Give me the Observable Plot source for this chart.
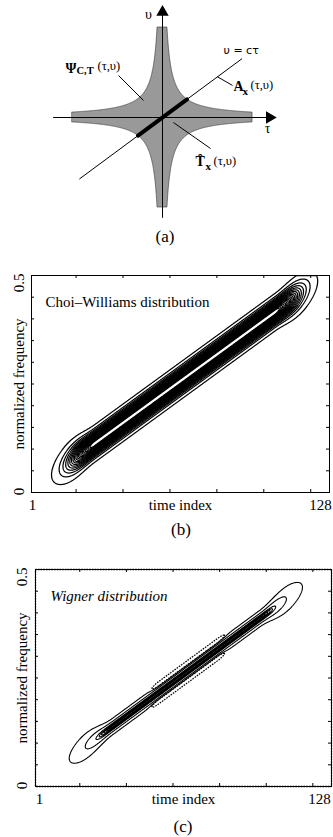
<!DOCTYPE html>
<html><head><meta charset="utf-8">
<script src="https://cdn.jsdelivr.net/npm/d3@7"></script>
<script src="https://cdn.jsdelivr.net/npm/@observablehq/plot@0.6"></script>
<style>
body{margin:0;background:#fff;}
#root{position:relative;width:333px;height:837px;overflow:hidden;font-family:"Liberation Serif",serif;background:#fff;}
#root svg{position:absolute;left:0;background:none;}
.cap{position:absolute;left:0;width:333px;font-size:17px;line-height:17px;font-family:"Liberation Serif",serif;}
</style></head><body><div id="root"></div>
<script>
// ---------- axis values (panels b and c) ----------
const timeDomain = [1, 128];
const freqDomain = [0, 0.5];
const timeTicks = [20, 40, 60, 80, 100, 120];
const freqTicks = [0.05, 0.1, 0.15, 0.2, 0.25, 0.3, 0.35, 0.4, 0.45];
const timeTickLabels = ["1", "128"];
const freqTickLabels = ["0", "0.5"];
const axisTitles = ["time index", "normalized frequency"];
const panelTitles = ["Choi–Williams distribution", "Wigner distribution"];
const captions = ["(a)", "(b)", "(c)"];

// ---------- Choi–Williams model ----------
const cwRidge = [0.007, 0.507];      // instantaneous frequency at t = 1 and t = 128
const cwSupport = [28, 104.5];       // full-strength time span
const cwTail = [6.6, 6.6];           // decay at both ends (time index)
const cwSpread = [0.0155, 0.45];     // frequency spread, widening at the ends
const cwLevels = [0.02, 0.07, 0.12, 0.17, 0.22, 0.27, 0.32, 0.37, 0.42, 0.47,
                  0.52, 0.57, 0.62, 0.67, 0.72, 0.77, 0.82, 0.87, 0.91, 0.95];

// ---------- Wigner model ----------
const wvRidge = [0.008, 0.508];
const wvSupport = [34, 97];
const wvTail = [7, 7];
const wvSpread = [0.0072, 1.3];
const wvLevels = [0.03, 0.25, 0.6, 0.72, 0.8, 0.87, 0.93, 0.97];
const wvLobeSpan = [54, 79];           // time span of the negative side lobes
const wvLobe = [0.0195, 0.0035, 0.2];  // offset, width, depth
const wvNegLevels = [-0.04];

// ---------- panel (a) schematic values ----------
const armLength = 1.0;     // extent of the Psi region along each axis
const hyperK = 0.055;      // |tau * nu| bound of the Psi region
const lineSlope = 0.74;    // nu = c tau
const tauAxis = [-1.21, 1.19];
const nuAxis = [-1.12, 1.17];
const lineTau = [-0.92, 0.88];

function tfModel(ridge, support, tail, spread) {
  return (t, f) => {
    const r = ridge[0] + (ridge[1] - ridge[0]) * (t - 1) / 127;
    let e = 1;
    if (t < support[0]) e = Math.exp(-((support[0] - t) ** 2) / (2 * tail[0] ** 2));
    else if (t > support[1]) e = Math.exp(-((t - support[1]) ** 2) / (2 * tail[1] ** 2));
    const s = spread[0] * (1 + spread[1] * (1 - e));
    return e * Math.exp(-((f - r) ** 2) / (2 * s * s));
  };
}
const cwValue = tfModel(cwRidge, cwSupport, cwTail, cwSpread);
const wvPos = tfModel(wvRidge, wvSupport, wvTail, wvSpread);
function wvValue(t, f) {
  const r = wvRidge[0] + (wvRidge[1] - wvRidge[0]) * (t - 1) / 127;
  let m = 1;
  if (t < wvLobeSpan[0]) m = Math.exp(-((wvLobeSpan[0] - t) ** 2) / (2 * 4));
  else if (t > wvLobeSpan[1]) m = Math.exp(-((t - wvLobeSpan[1]) ** 2) / (2 * 4));
  const [dlt, sw, depth] = wvLobe;
  const neg = depth * m * (Math.exp(-((f - r - dlt) ** 2) / (2 * sw * sw)) +
                           Math.exp(-((f - r + dlt) ** 2) / (2 * sw * sw)));
  return wvPos(t, f) - neg;
}

const root = document.getElementById("root");
const serif = "Liberation Serif, Times New Roman, serif";

// ---------- panel (a) ----------
function starHalf(tau) {
  const a = Math.abs(tau);
  return a < 1e-9 ? armLength : Math.min(armLength, hyperK / a);
}
const starTau = Array.from(new Set([...d3.range(-armLength, armLength + 1e-9, 0.002),
  hyperK / armLength, -hyperK / armLength])).sort((a, b) => a - b);
const segEnd = Math.sqrt(hyperK / lineSlope);

const panelA = Plot.plot({
  width: 333, height: 232,
  margin: 0,
  x: {domain: [-1.5, 1.5], range: [27, 297], axis: null},
  y: {domain: [-1.5, 1.5], range: [252, -18], axis: null},
  style: {fontFamily: serif, background: "transparent"},
  marks: [
    Plot.areaY(starTau, {x: d => d, y1: d => -starHalf(d), y2: d => starHalf(d),
      fill: "#999999", stroke: "#333", strokeWidth: 0.6}),
    Plot.ruleY([0], {x1: tauAxis[0], x2: tauAxis[1], stroke: "black", strokeWidth: 1}),
    Plot.ruleX([0], {y1: nuAxis[0], y2: nuAxis[1], stroke: "black", strokeWidth: 1}),
    Plot.dot([0], {x: tauAxis[1], y: 0, symbol: "triangle", rotate: 90, r: 4.6, fill: "black"}),
    Plot.dot([0], {x: 0, y: nuAxis[1], symbol: "triangle", r: 4.6, fill: "black"}),
    Plot.line(lineTau, {x: d => d, y: d => lineSlope * d, stroke: "black", strokeWidth: 1}),
    Plot.line([-segEnd, segEnd], {x: d => d, y: d => lineSlope * d, stroke: "black", strokeWidth: 4}),
    Plot.link([0], {x1: -0.489, y1: 0.467, x2: -0.211, y2: 0.189, stroke: "black"}),
    Plot.link([0], {x1: 0.611, y1: 0.452, x2: 0.778, y2: 0.356, stroke: "black"}),
    Plot.link([0], {x1: 0.122, y1: -0.056, x2: 0.533, y2: -0.344, stroke: "black"}),
    Plot.text(["υ"], {x: -0.156, y: 1.144, fontSize: 14, text: d => d}),
    Plot.text(["τ"], {x: 1.167, y: -0.122, fontSize: 14, text: d => d}),
    Plot.text(["υ = cτ"], {x: 0.678, y: 0.744, fontSize: 11, textAnchor: "start", text: d => d, fontFamily: "DejaVu Sans"}),
    Plot.text(["Ψ"], {x: -1.078, y: 0.544, fontSize: 14, fontWeight: "bold", textAnchor: "start", text: d => d}),
    Plot.text(["C,T"], {x: -0.956, y: 0.522, fontSize: 10.5, fontWeight: "bold", textAnchor: "start", text: d => d}),
    Plot.text(["(τ,υ)"], {x: -0.722, y: 0.567, fontSize: 12.5, textAnchor: "start", text: d => d}),
    Plot.text(["A"], {x: 0.789, y: 0.344, fontSize: 14, fontWeight: "bold", textAnchor: "start", text: d => d}),
    Plot.text(["x"], {x: 0.889, y: 0.289, fontSize: 11, fontWeight: "bold", textAnchor: "start", text: d => d}),
    Plot.text(["(τ,υ)"], {x: 0.978, y: 0.356, fontSize: 12.5, textAnchor: "start", text: d => d}),
    Plot.text(["T\u0311"], {x: 0.367, y: -0.489, fontSize: 14, fontWeight: "bold", textAnchor: "start", text: d => d}),
    Plot.text(["x"], {x: 0.478, y: -0.544, fontSize: 11, fontWeight: "bold", textAnchor: "start", text: d => d}),
    Plot.text(["(τ,υ)"], {x: 0.567, y: -0.478, fontSize: 12.5, textAnchor: "start", text: d => d})
  ]
});
panelA.style.top = "0px";
root.appendChild(panelA);

// ---------- panels (b) and (c) ----------
function tfPanel({top, left, frameW, value, levels, negLevels, title, italic, titleDx, titleDy,
                  labelDx128, yLabelDx, tickLabelDx, lineW}) {
  const frameH = 217;
  const marks = [
    Plot.contour({x1: timeDomain[0], x2: timeDomain[1], y1: freqDomain[0], y2: freqDomain[1],
      value, thresholds: levels, pixelSize: 0.5, fill: "none", stroke: "black", strokeWidth: lineW}),
  ];
  if (negLevels) marks.push(Plot.contour({x1: timeDomain[0], x2: timeDomain[1], y1: freqDomain[0], y2: freqDomain[1],
      value, thresholds: negLevels, pixelSize: 0.5, fill: "none", stroke: "black", strokeWidth: 1.3,
      strokeDasharray: "1.6,1.1"}));
  marks.push(
    Plot.frame({stroke: "black", strokeWidth: 1}),
    Plot.tickX(timeTicks, {x: d => d, insetTop: frameH - 3, stroke: "black"}),
    Plot.tickX(timeTicks, {x: d => d, insetBottom: frameH - 3, stroke: "black"}),
    Plot.tickY(freqTicks, {y: d => d, insetRight: frameW - 3, stroke: "black"}),
    Plot.tickY(freqTicks, {y: d => d, insetLeft: frameW - 3, stroke: "black"}),
    Plot.text([timeTickLabels[0]], {x: timeDomain[0], y: freqDomain[0], dy: 13, dx: tickLabelDx, fontSize: 15, text: d => d}),
    Plot.text([timeTickLabels[1]], {x: timeDomain[1], y: freqDomain[0], dy: 13, dx: labelDx128, fontSize: 15, text: d => d}),
    Plot.text([axisTitles[0]], {x: (timeDomain[0] + timeDomain[1]) / 2, y: freqDomain[0], dy: 13, fontSize: 15, text: d => d}),
    Plot.text([freqTickLabels[0]], {x: timeDomain[0], y: freqDomain[0], rotate: -90, dx: yLabelDx, dy: -1, fontSize: 15, text: d => d}),
    Plot.text([freqTickLabels[1]], {x: timeDomain[0], y: freqDomain[1], rotate: -90, dx: yLabelDx, dy: -2, textAnchor: "end", fontSize: 15, text: d => d}),
    Plot.text([axisTitles[1]], {x: timeDomain[0], y: (freqDomain[0] + freqDomain[1]) / 2, rotate: -90, dx: yLabelDx, fontSize: 15, text: d => d}),
    Plot.text([title], {frameAnchor: "top-left", dx: titleDx, dy: titleDy, textAnchor: "start", fontSize: 15,
      fontStyle: italic ? "italic" : "normal", text: d => d})
  );
  const p = Plot.plot({
    width: 333, height: 20 + frameH + 28,
    marginTop: 20, marginBottom: 28, marginLeft: left, marginRight: 333 - left - frameW,
    x: {domain: timeDomain, axis: null},
    y: {domain: freqDomain, axis: null},
    style: {fontFamily: serif, background: "transparent", overflow: "visible"},
    marks
  });
  p.style.top = top + "px";
  root.appendChild(p);
}

tfPanel({top: 255, left: 31, frameW: 298, value: cwValue, levels: cwLevels, lineW: 1.25,
  title: panelTitles[0], italic: false, titleDx: 14, titleDy: 21, labelDx128: -9, yLabelDx: -12, tickLabelDx: 1});
tfPanel({top: 549, left: 35, frameW: 296, value: wvValue, levels: wvLevels, negLevels: wvNegLevels, lineW: 1.1,
  title: panelTitles[1], italic: true, titleDx: 15, titleDy: 21, labelDx128: -12, yLabelDx: -13, tickLabelDx: 4});

// ---------- captions ----------
[[captions[0], 165, 237], [captions[1], 181, 530], [captions[2], 183, 827]].forEach(([txt, cx, cy]) => {
  const d = document.createElement("div");
  d.className = "cap";
  d.textContent = txt;
  d.style.left = (cx - 40) + "px";
  d.style.width = "80px";
  d.style.textAlign = "center";
  d.style.top = (cy - 9) + "px";
  root.appendChild(d);
});
</script></body></html>
